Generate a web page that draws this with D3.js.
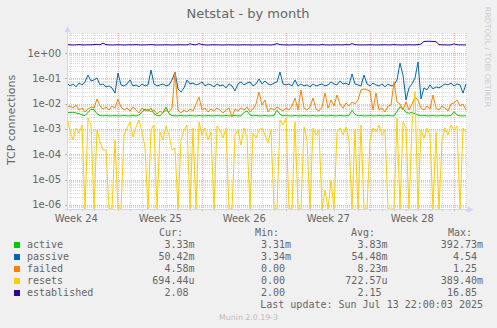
<!DOCTYPE html>
<html><head><meta charset="utf-8">
<script src="https://cdn.jsdelivr.net/npm/d3@7"></script>
<style>html,body{margin:0;padding:0;background:#F0F0F0;} svg{display:block;} text{white-space:pre;}</style>
</head><body>
<svg id="c" width="497" height="328"></svg>
<script>
// ---- data (6-hour samples) ----
const seriesNames = ["active","passive","failed","resets","established"];
const seriesColors = ["#00CC00","#0066B3","#FF8000","#FFCC00","#330099"];

const established = [2.1,2.12,2.08,2.1,2.15,2.1,2.08,2.12,2.1,2.15,
2.2,2.12,2.45,2.15,2.1,2.08,2.1,2.12,2.1,2.08,
2.1,2.12,2.1,2.15,2.1,2.08,2.1,2.12,2.15,2.1,
2.08,2.1,2.1,2.12,2.1,2.08,2.1,2.1,2.12,2.1,
2.1,2.3,2.15,2.1,2.35,2.15,2.1,2.08,2.1,2.12,
2.1,2.1,2.08,2.1,2.12,2.1,2.1,2.08,2.1,2.12,
2.1,2.1,2.08,2.1,2.1,2.12,2.1,2.1,2.08,2.15,
2.35,2.15,2.1,2.1,2.08,2.1,2.12,2.1,2.1,2.08,
2.1,2.12,2.1,2.1,2.08,2.15,2.1,2.1,2.08,2.1,
2.12,2.1,2.1,2.15,2.1,2.35,2.15,2.1,2.08,2.1,
2.1,2.12,2.1,2.08,2.1,2.1,2.12,2.1,2.1,2.15,
2.1,2.1,2.08,2.1,2.12,2.1,2.1,2.15,2.25,2.85,
2.9,2.9,2.85,2.8,2.15,2.1,2.1,2.08,2.1,2.3,
2.12,2.1,2.1,2.08];

const active = [0.0045,0.0044,0.0046,0.0043,0.004,0.0036,0.0034,0.0045,0.006,0.0058,
0.004,0.0034,0.0033,0.0034,0.0033,0.0033,0.0034,0.0033,0.0033,0.0034,
0.0033,0.0033,0.0034,0.0033,0.0036,0.0045,0.0062,0.005,0.0065,0.004,
0.0034,0.0033,0.0045,0.0072,0.004,0.0034,0.0033,0.0033,0.0034,0.0033,
0.0033,0.0034,0.0033,0.0033,0.0034,0.0033,0.0033,0.0034,0.0033,0.0033,
0.0034,0.0033,0.0033,0.0034,0.0033,0.0033,0.0034,0.0033,0.0033,0.0045,
0.0052,0.0036,0.0033,0.0034,0.0033,0.0033,0.0034,0.0033,0.0033,0.0034,
0.0055,0.0038,0.0033,0.0034,0.0033,0.0033,0.0034,0.0033,0.0033,0.0034,
0.0033,0.0033,0.0034,0.0033,0.0033,0.0034,0.0033,0.0033,0.0034,0.0033,
0.0033,0.0034,0.0033,0.0033,0.0034,0.0055,0.0038,0.0033,0.0034,0.0033,
0.0033,0.0034,0.0033,0.0033,0.0034,0.0033,0.0033,0.0034,0.0033,0.0033,
0.005,0.0074,0.0065,0.0045,0.0042,0.0045,0.004,0.0036,0.0033,0.0034,
0.0033,0.0033,0.0034,0.0033,0.0033,0.0034,0.0033,0.0033,0.0034,0.0048,
0.0036,0.0033,0.0033,0.0033];

const passive = [0.065,0.050,0.060,0.046,0.065,0.055,0.072,0.135,0.079,0.086,
0.103,0.055,0.060,0.046,0.050,0.042,0.026,0.162,0.055,0.050,
0.060,0.086,0.050,0.055,0.046,0.060,0.050,0.055,0.213,0.060,
0.050,0.055,0.060,0.050,0.055,0.086,0.178,0.038,0.029,0.042,
0.086,0.060,0.065,0.055,0.060,0.072,0.050,0.060,0.055,0.046,
0.060,0.050,0.055,0.042,0.060,0.050,0.032,0.060,0.072,0.055,
0.065,0.072,0.050,0.060,0.094,0.060,0.079,0.060,0.055,0.065,
0.072,0.178,0.060,0.055,0.060,0.050,0.086,0.050,0.060,0.050,
0.055,0.046,0.060,0.050,0.055,0.060,0.050,0.055,0.072,0.060,
0.055,0.079,0.060,0.065,0.055,0.148,0.060,0.055,0.050,0.135,
0.060,0.050,0.065,0.055,0.050,0.060,0.046,0.060,0.050,0.055,
0.086,0.40,0.135,0.014,0.042,0.060,0.103,0.44,0.0153,0.042,
0.035,0.055,0.038,0.046,0.042,0.050,0.060,0.055,0.065,0.050,
0.060,0.055,0.026,0.060];

const failed = [0.0074,0.0081,0.0067,0.0088,0.0056,0.0067,0.0047,0.0061,0.0074,0.0067,
0.0153,0.0081,0.0061,0.0074,0.0056,0.0081,0.0067,0.0153,0.0074,0.0056,
0.0067,0.0051,0.0074,0.0056,0.0043,0.0067,0.0051,0.0061,0.0047,0.0056,
0.0039,0.0051,0.0043,0.0056,0.0047,0.0067,0.178,0.0056,0.0043,0.0056,
0.0047,0.0061,0.0051,0.0097,0.0183,0.0056,0.0067,0.0047,0.0061,0.0051,
0.0067,0.0056,0.0043,0.0056,0.0067,0.003,0.0061,0.0051,0.0067,0.0056,
0.0074,0.0047,0.0061,0.0097,0.0289,0.0088,0.014,0.0047,0.0067,0.0056,
0.0074,0.0061,0.0051,0.0067,0.0056,0.0081,0.0167,0.0056,0.0346,0.0067,
0.0056,0.0074,0.0167,0.0061,0.0051,0.0074,0.0264,0.0067,0.014,0.0081,
0.022,0.0097,0.0067,0.0107,0.0081,0.0117,0.0097,0.014,0.0346,0.038,
0.0346,0.0316,0.0056,0.0264,0.0056,0.0067,0.0047,0.0081,0.0088,0.0716,
0.0117,0.0097,0.0056,0.0117,0.0056,0.0097,0.0183,0.014,0.0067,0.0056,
0.0081,0.0061,0.022,0.0067,0.0056,0.0081,0.0067,0.0051,0.0097,0.0107,
0.014,0.0081,0.0097,0.0056];

const resets = [0.003,0.00083,0.00037,0.00109,0.00069,0.00144,0,0.0027,0.00144,0,
0.00091,0.00031,0.000148,0.000148,0,0,0.00037,0,0,0.00058,
0.00109,0.00188,0.00048,0.0012,0.00226,0.00076,0.000195,0,0.00091,0.00144,
0,0.00076,0.00037,0.00131,0.00058,0.000148,0.000178,0,0.00037,0.00091,
0.00144,0,0.00109,0,0.00188,0.00058,0.00109,0.00037,0.00076,0,
0.00131,0.00091,0.00044,0.00109,0,0,0.00058,0.00091,0.00023,0.00109,
0.00048,0,0.00069,0.00044,0.00091,0.00109,0.00058,0.00028,0.00091,0,
0,0.00226,0.00144,0.0027,0,0,0.00188,0,0,0.0012,
0.00037,0,0.00109,0.00058,0.00091,0,0.0000039,0,0.0000096,0,
0.00076,0.00109,0.00058,0.0012,0.00037,0,0.00091,0,0.00144,0,
0,0.00037,0.00109,0.00076,0.00144,0.00058,0.00091,0,0,0,
0.0027,0,0.00188,0.00109,0,0.00144,0.03,0,0.00091,0.00044,
0.00109,0.00058,0,0.00076,0,0.00037,0.00109,0.00058,0.00144,0.00091,
0.00131,0,0.00109,0.00076];

const seriesValues = [active, passive, failed, resets, established];

const yTickValues = [1e0,1e-1,1e-2,1e-3,1e-4,1e-5,1e-6];
const yTickLabels = ["1e+00","1e-01","1e-02","1e-03","1e-04","1e-05","1e-06"];
const weekLabels = ["Week 24","Week 25","Week 26","Week 27","Week 28"];
const legendCur = ["3.33m","50.42m","4.58m","694.44u","2.08 "];
const legendMin = ["3.31m","3.34m","0.00 ","0.00 ","2.00 "];
const legendAvg = ["3.83m","54.48m","8.23m","722.57u","2.15 "];
const legendMax = ["392.73m","4.54 ","1.25 ","389.40m","16.85 "];

// ---- layout ----
const svg = d3.select("#c");
const L = 67, R = 467, T = 33, B = 209;
const tStart = new Date(2025,5,10,17,24), tEnd = new Date(2025,6,14,1,24);
const x = d3.scaleTime().domain([tStart,tEnd]).range([L,R]);
const y = d3.scaleLog().domain([6.95e-7, 6.16]).range([B,T]).clamp(true);
const sampleTime = i => d3.timeHour.offset(tStart, 6*i);

svg.append("rect").attr("width",497).attr("height",328).attr("fill","#F0F0F0");
svg.append("rect").attr("x",L).attr("y",T).attr("width",R-L).attr("height",B-T).attr("fill","#FFFFFF");

const grid = svg.append("g").attr("shape-rendering","crispEdges");
const minorCol = "#dadada", majorCol = "#f0b4b4";
// horizontal minor grid
for (let k=-7;k<=0;k++) for (let m=2;m<=9;m++){
  const v = m*Math.pow(10,k);
  if (v < y.domain()[0] || v > y.domain()[1]) continue;
  const yy = Math.round(y(v))+0.5;
  grid.append("line").attr("x1",L).attr("x2",R).attr("y1",yy).attr("y2",yy)
    .attr("stroke",minorCol).attr("stroke-dasharray","1,1");
}
// vertical minor grid (days)
const weeks = d3.timeWeek.range(tStart,tEnd);
d3.timeDay.range(tStart,tEnd).forEach(d=>{
  if (weeks.some(w=>+w===+d)) return;
  const xx = Math.round(x(d))+0.5;
  grid.append("line").attr("x1",xx).attr("x2",xx).attr("y1",T).attr("y2",B)
    .attr("stroke",minorCol).attr("stroke-dasharray","1,1");
  grid.append("line").attr("x1",xx).attr("x2",xx).attr("y1",B).attr("y2",B+2).attr("stroke","#c4c4c4");
});
// major grid
yTickValues.forEach(v=>{
  const yy = Math.round(y(v))+0.5;
  grid.append("line").attr("x1",L).attr("x2",R).attr("y1",yy).attr("y2",yy)
    .attr("stroke",majorCol).attr("stroke-dasharray","1,1");
  grid.append("line").attr("x1",L-2).attr("x2",L).attr("y1",yy).attr("y2",yy).attr("stroke","#e8a0a0");
});
weeks.forEach(d=>{
  const xx = Math.round(x(d))+0.5;
  grid.append("line").attr("x1",xx).attr("x2",xx).attr("y1",T).attr("y2",B)
    .attr("stroke",majorCol).attr("stroke-dasharray","1,1");
  grid.append("line").attr("x1",xx).attr("x2",xx).attr("y1",B).attr("y2",B+2).attr("stroke","#e8a0a0");
});

// series
svg.append("clipPath").attr("id","clip").append("rect").attr("x",L).attr("y",T).attr("width",R-L).attr("height",B-T+0.5);
const lines = svg.append("g").attr("clip-path","url(#clip)");
const lineGen = d3.line().x((d,i)=>x(sampleTime(i))).y(d=>y(Math.max(d,1e-9)));
seriesValues.forEach((vals,si)=>{
  lines.append("path").attr("d",lineGen(vals)).attr("fill","none")
    .attr("stroke",seriesColors[si]).attr("stroke-width",1).attr("stroke-linejoin","round");
});

// axes
const axisCol = "#CFD6F8";
svg.append("line").attr("x1",L+0.5).attr("x2",L+0.5).attr("y1",B+2).attr("y2",29).attr("stroke",axisCol);
svg.append("line").attr("x1",L-2).attr("x2",469).attr("y1",B+0.5).attr("y2",B+0.5).attr("stroke",axisCol);
svg.append("path").attr("d",`M${L-2.5},32 L${L+3.5},32 L${L+0.5},26 Z`).attr("fill",axisCol);
svg.append("path").attr("d",`M467.5,206 L467.5,213 L473.5,209.5 Z`).attr("fill",axisCol);

// text
const font = "DejaVu Sans, sans-serif", mono = "DejaVu Sans Mono, monospace", tc = "#666666";
svg.append("text").attr("x",248).attr("y",18).attr("text-anchor","middle")
  .attr("font-family",font).attr("font-size",13).attr("fill",tc).text("Netstat - by month");
svg.append("text").attr("transform","translate(15,120) rotate(-90)").attr("text-anchor","middle")
  .attr("font-family",font).attr("font-size",11).attr("fill",tc).text("TCP connections");
svg.append("text").attr("transform","translate(485,57) rotate(90)").attr("text-anchor","middle")
  .attr("font-family",font).attr("font-size",7.8).attr("fill","#cccccc").text("RRDTOOL / TOBI OETIKER");
yTickValues.forEach((v,i)=>{
  svg.append("text").attr("x",61).attr("y",y(v)).attr("dy","0.35em").attr("text-anchor","end")
    .attr("font-family",font).attr("font-size",10).attr("fill",tc).text(yTickLabels[i]);
});
const labelStarts = d3.timeWeek.range(d3.timeWeek.floor(tStart), tEnd)
  .map(w=>d3.timeHour.offset(w,84)).filter(d=>d>=tStart && d<=tEnd);
labelStarts.forEach((d,i)=>{
  if (i>=weekLabels.length) return;
  svg.append("text").attr("x",x(d)).attr("y",221.5).attr("text-anchor","middle")
    .attr("font-family",font).attr("font-size",10).attr("fill",tc).text(weekLabels[i]);
});

// legend
const lg = svg.append("g").attr("font-family",mono).attr("font-size",10).attr("fill",tc);
[["Cur:",159],["Min:",255],["Avg:",351],["Max:",448]].forEach(h=>{
  lg.append("text").attr("x",h[1]).attr("y",236).text(h[0]);
});
seriesNames.forEach((n,i)=>{
  const yy = 248+12*i;
  lg.append("rect").attr("x",14).attr("y",yy-6).attr("width",6).attr("height",6).attr("fill",seriesColors[i]);
  lg.append("text").attr("x",27).attr("y",yy).text(n);
  lg.append("text").attr("x",194.5).attr("y",yy).attr("text-anchor","end").text(legendCur[i]);
  lg.append("text").attr("x",291).attr("y",yy).attr("text-anchor","end").text(legendMin[i]);
  lg.append("text").attr("x",387.5).attr("y",yy).attr("text-anchor","end").text(legendAvg[i]);
  lg.append("text").attr("x",483).attr("y",yy).attr("text-anchor","end").text(legendMax[i]);
});
lg.append("text").attr("x",483).attr("y",308).attr("text-anchor","end").text("Last update: Sun Jul 13 22:00:03 2025");
svg.append("text").attr("x",248.5).attr("y",320).attr("text-anchor","middle")
  .attr("font-family",font).attr("font-size",7.8).attr("fill","#bbbbbb").text("Munin 2.0.19-3");
</script>
</body></html>
